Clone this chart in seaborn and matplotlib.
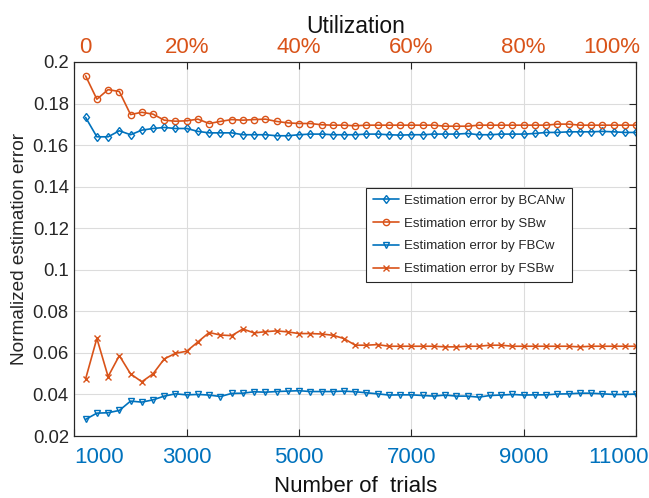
import matplotlib
matplotlib.use("Agg")
import matplotlib.pyplot as plt
import matplotlib.transforms as mtransforms
import seaborn as sns
import pandas as pd
import numpy as np

trials = list(range(1200, 11001, 200))

bcanw = [0.1733, 0.1640, 0.1640, 0.1669, 0.1650, 0.1672, 0.1680, 0.1685, 0.1680, 0.1680,
         0.1666, 0.1659, 0.1659, 0.1659, 0.1650, 0.1650, 0.1650, 0.1645, 0.1645, 0.1650,
         0.1653, 0.1653, 0.1650, 0.1650, 0.1650,
         0.1653, 0.1653, 0.1650, 0.1648, 0.1650, 0.1650, 0.1653, 0.1653, 0.1653, 0.1656,
         0.1650, 0.1650, 0.1653, 0.1653, 0.1653, 0.1656, 0.1661, 0.1661, 0.1664, 0.1664,
         0.1664, 0.1666, 0.1664, 0.1661, 0.1661]

sbw = [0.1933, 0.1821, 0.1867, 0.1858, 0.1747, 0.1758, 0.1749, 0.1720, 0.1715, 0.1717,
       0.1725, 0.1704, 0.1714, 0.1723, 0.1720, 0.1723, 0.1725, 0.1714, 0.1707, 0.1704,
       0.1704, 0.1698, 0.1696, 0.1696, 0.1693,
       0.1696, 0.1696, 0.1696, 0.1696, 0.1696, 0.1696, 0.1696, 0.1691, 0.1691, 0.1691,
       0.1696, 0.1696, 0.1696, 0.1696, 0.1696, 0.1696, 0.1696, 0.1701, 0.1701, 0.1696,
       0.1696, 0.1696, 0.1696, 0.1696, 0.1696]

fbcw = [0.0280, 0.0310, 0.0312, 0.0323, 0.0368, 0.0363, 0.0374, 0.0392, 0.0403, 0.0398,
        0.0400, 0.0397, 0.0390, 0.0405, 0.0406, 0.0413, 0.0411, 0.0414, 0.0416, 0.0418,
        0.0414, 0.0414, 0.0414, 0.0416, 0.0413,
        0.0408, 0.0403, 0.0397, 0.0398, 0.0398, 0.0395, 0.0392, 0.0397, 0.0392, 0.0392,
        0.0387, 0.0395, 0.0397, 0.0400, 0.0397, 0.0398, 0.0398, 0.0402, 0.0403, 0.0406,
        0.0406, 0.0403, 0.0400, 0.0400, 0.0402]

fsbw = [0.0475, 0.0670, 0.0486, 0.0587, 0.0499, 0.0461, 0.0499, 0.0571, 0.0598, 0.0608,
        0.0653, 0.0698, 0.0686, 0.0683, 0.0715, 0.0696, 0.0702, 0.0706, 0.0701, 0.0693,
        0.0693, 0.0691, 0.0685, 0.0669, 0.0637,
        0.0637, 0.0640, 0.0632, 0.0632, 0.0632, 0.0632, 0.0632, 0.0629, 0.0629, 0.0632,
        0.0632, 0.0637, 0.0637, 0.0632, 0.0632, 0.0632, 0.0632, 0.0632, 0.0632, 0.0629,
        0.0632, 0.0632, 0.0632, 0.0632, 0.0632]

series_names = ["Estimation error by BCANw", "Estimation error by SBw",
                "Estimation error by FBCw", "Estimation error by FSBw"]
series_values = [bcanw, sbw, fbcw, fsbw]

bottom_ticks = [1000, 3000, 5000, 7000, 9000, 11000]
bottom_labels = ["1000", "3000", "5000", "7000", "9000", "11000"]
top_ticks = [0, 20, 40, 60, 80, 100]
top_labels = ["0", "20%", "40%", "60%", "80%", "100%"]
y_ticks = [0.02, 0.04, 0.06, 0.08, 0.1, 0.12, 0.14, 0.16, 0.18, 0.2]
y_labels = ["0.02", "0.04", "0.06", "0.08", "0.1", "0.12", "0.14", "0.16", "0.18", "0.2"]

BLUE = "#0072BD"
ORANGE = "#D95319"
colors = [BLUE, ORANGE, BLUE, ORANGE]
markers = ["d", "o", "v", "x"]

sns.set_style("white")
plt.rcParams["font.family"] = ["Liberation Sans", "DejaVu Sans"]

fig = plt.figure(figsize=(6.49, 4.98), dpi=100)
ax = fig.add_axes([74.4 / 649, 1 - 436 / 498, (636 - 74.4) / 649, (436 - 62) / 498])

df = pd.DataFrame({"trials": trials})
for name, vals, c, m in zip(series_names, series_values, colors, markers):
    df[name] = vals
    sns.lineplot(data=df, x="trials", y=name, ax=ax, color=c, marker=m,
                 markersize=4.5 if m != "x" else 4, markerfacecolor="none",
                 markeredgecolor=c, markeredgewidth=1.0, linewidth=1.2, label=name)

ax.set_xlim(1000, 11000)
ax.set_ylim(0.02, 0.2)
ax.set_xticks(bottom_ticks)
ax.set_xticklabels(bottom_labels, color=BLUE, fontsize=16)
ax.set_yticks(y_ticks)
ax.set_yticklabels(y_labels, color="#262626", fontsize=13.3)
ax.grid(True, color="#dcdcdc", linewidth=0.8)
ax.tick_params(axis="x", direction="in", length=5, pad=8, top=False, colors="#262626", labelcolor=BLUE)
ax.tick_params(axis="y", direction="in", length=5, pad=4, right=True, colors="#262626")
for s in ax.spines.values():
    s.set_color("#262626")
    s.set_linewidth(0.8)
ax.set_xlabel("Number of  trials", fontsize=16, color="#111111", labelpad=6)
ax.set_ylabel("Normalized estimation error", fontsize=13.7, color="#262626", labelpad=3)

ax2 = ax.twiny()
ax2.set_xlim(0, 100)
ax2.set_xticks(top_ticks)
ax2.set_xticklabels(top_labels, color=ORANGE, fontsize=16)
ax2.tick_params(axis="x", direction="in", length=5, pad=3, colors="#262626", labelcolor=ORANGE)
for s in ax2.spines.values():
    s.set_color("#262626")
    s.set_linewidth(0.8)
ax2.set_xlabel("Utilization", fontsize=16.5, color="#111111", labelpad=3)

def shift(label, dx_px):
    off = mtransforms.ScaledTranslation(dx_px / 100.0, 0, fig.dpi_scale_trans)
    label.set_transform(label.get_transform() + off)

bl = ax.get_xticklabels()
shift(bl[0], 25)
shift(bl[-1], -18)
tl = ax2.get_xticklabels()
shift(tl[0], 11)
shift(tl[-1], -24)

leg = ax.legend(loc="upper left", bbox_to_anchor=((366 - 74.4) / 561.6, 1 - (188 - 62) / 374),
                fontsize=9.5, frameon=True, fancybox=False, edgecolor="#262626",
                framealpha=1, handlelength=2.0, labelspacing=0.8, borderpad=0.5,
                handletextpad=0.4, borderaxespad=0)
leg.get_frame().set_linewidth(0.8)

fig.savefig("out.png", dpi=100)
